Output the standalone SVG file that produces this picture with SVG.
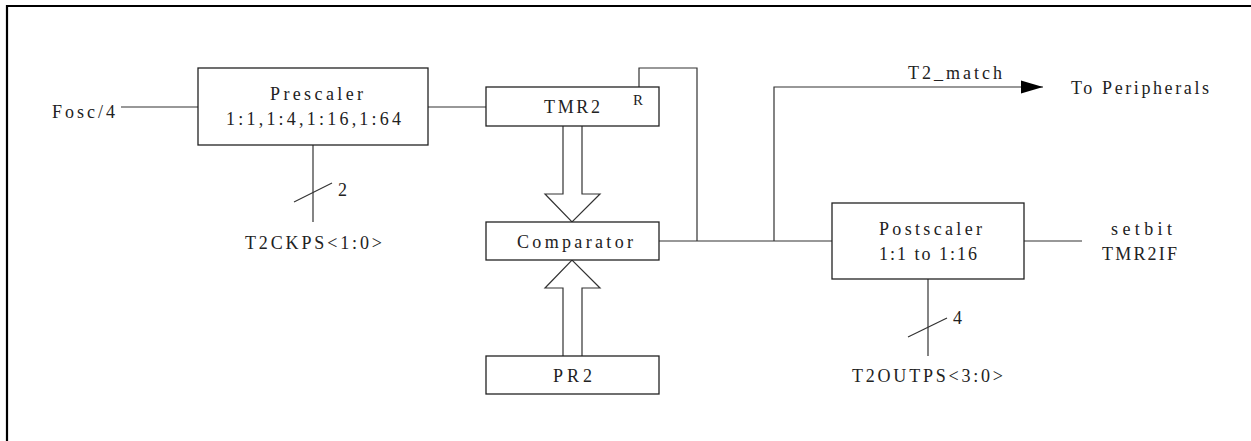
<svg xmlns="http://www.w3.org/2000/svg" width="1251" height="441" viewBox="0 0 1251 441">
<style>
.box{fill:#fff;stroke:#222;stroke-width:1.3}
.ln{fill:none;stroke:#333;stroke-width:1.2}
.hol{fill:#fff;stroke:#333;stroke-width:1.2}
text{font-family:"Liberation Serif","DejaVu Serif",serif;font-size:18px;fill:#222}
</style>
<defs>
<marker id="ah" markerWidth="22" markerHeight="14" refX="22" refY="7" orient="auto" markerUnits="userSpaceOnUse">
<path d="M0,0.5 L22,7 L0,13.5 Z" fill="#000"/>
</marker>
</defs>
<rect width="1251" height="441" fill="#fff"/>
<path d="M7,441 V6 H1251" fill="none" stroke="#000" stroke-width="2.2"/>

<g id="connectors">
<line class="ln" x1="121" y1="107" x2="198" y2="107"/>
<line class="ln" x1="428" y1="107" x2="486" y2="107"/>
<line class="ln" x1="313" y1="145" x2="313" y2="222"/>
<line class="ln" x1="294" y1="202" x2="332" y2="183"/>
<path class="ln" d="M639,87 V68 H697 V241"/>
<line class="ln" x1="659" y1="241" x2="832" y2="241"/>
<path class="ln" d="M774,241 V87 H1043" marker-end="url(#ah)"/>
<line class="ln" x1="1024" y1="241" x2="1082" y2="241"/>
<line class="ln" x1="928" y1="279" x2="928" y2="356"/>
<line class="ln" x1="908" y1="337" x2="947" y2="318"/>
<path class="hol" d="M563,126 V194 H545 L572,222 L600,194 H582 V126"/>
<path class="hol" d="M563,356 V288 H545 L572,260 L600,288 H582 V356"/>
</g>

<g id="fosc"><text x="52" y="118" textLength="63" lengthAdjust="spacing">Fosc/4</text></g>

<g id="prescaler">
<rect class="box" x="198" y="68" width="230" height="77"/>
<text x="270" y="100" textLength="93" lengthAdjust="spacing">Prescaler</text>
<text x="226" y="125" textLength="175" lengthAdjust="spacing">1:1,1:4,1:16,1:64</text>
</g>

<g id="t2ckps">
<text x="338" y="196">2</text>
<text x="245" y="249" textLength="137" lengthAdjust="spacing">T2CKPS&lt;1:0&gt;</text>
</g>

<g id="tmr2">
<rect class="box" x="486" y="87" width="173" height="39"/>
<text x="544" y="113" textLength="56" lengthAdjust="spacing">TMR2</text>
<text x="633" y="105" style="font-size:15px" textLength="11" lengthAdjust="spacing">R</text>
</g>

<g id="comparator">
<rect class="box" x="486" y="222" width="173" height="38"/>
<text x="517" y="248" textLength="116" lengthAdjust="spacing">Comparator</text>
</g>

<g id="pr2">
<rect class="box" x="486" y="356" width="173" height="38"/>
<text x="553" y="382" textLength="39" lengthAdjust="spacing">PR2</text>
</g>

<g id="t2match">
<text x="908" y="79" textLength="94" lengthAdjust="spacing">T2_match</text>
<text x="1071" y="94" textLength="138" lengthAdjust="spacing">To Peripherals</text>
</g>

<g id="postscaler">
<rect class="box" x="832" y="203" width="192" height="76"/>
<text x="879" y="235" textLength="103" lengthAdjust="spacing">Postscaler</text>
<text x="879" y="260" textLength="98" lengthAdjust="spacing">1:1 to 1:16</text>
</g>

<g id="tmr2if">
<text x="1111" y="235" textLength="61" lengthAdjust="spacing">setbit</text>
<text x="1102" y="260" textLength="75" lengthAdjust="spacing">TMR2IF</text>
</g>

<g id="t2outps">
<text x="953" y="324">4</text>
<text x="852" y="382" textLength="151" lengthAdjust="spacing">T2OUTPS&lt;3:0&gt;</text>
</g>
</svg>
